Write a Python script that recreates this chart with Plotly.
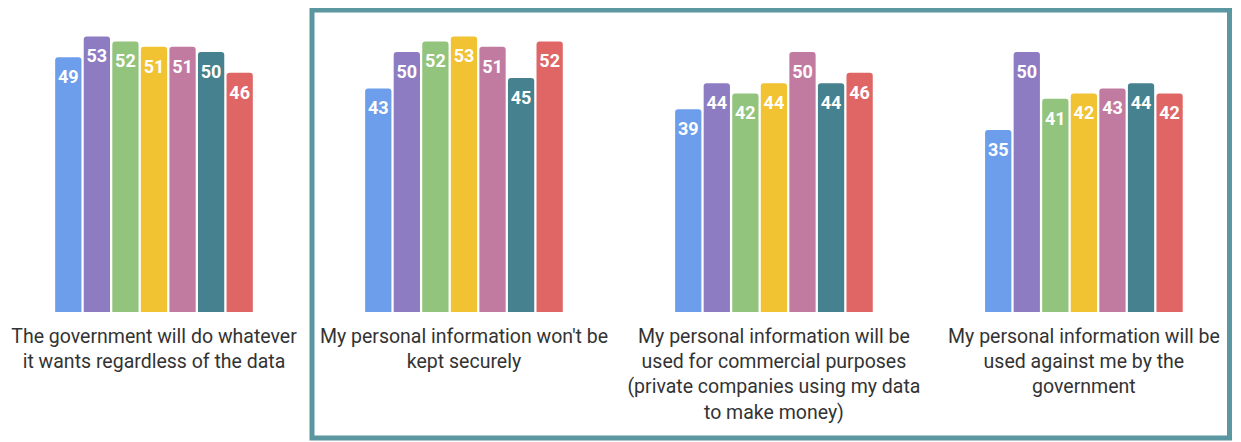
import plotly.graph_objects as go

categories = [
    "The government will do whatever<br>it wants regardless of the data",
    "My personal information won't be<br>kept securely",
    "My personal information will be<br>used for commercial purposes<br>(private companies using my data<br>to make money)",
    "My personal information will be<br>used against me by the<br>government",
]
series_names = ["Series 1", "Series 2", "Series 3", "Series 4", "Series 5", "Series 6", "Series 7"]
series_values = [
    [49, 43, 39, 35],
    [53, 50, 44, 50],
    [52, 52, 42, 41],
    [51, 53, 44, 42],
    [51, 51, 50, 43],
    [50, 45, 44, 44],
    [46, 52, 46, 42],
]
colors = ["#6d9eeb", "#8e7cc3", "#93c47d", "#f1c232", "#c27ba0", "#45818e", "#e06666"]


def create_traces():
    traces = []
    for i, (name, vals, color) in enumerate(zip(series_names, series_values, colors)):
        traces.append(go.Bar(
            name=name, x=categories, y=vals, offsetgroup=str(i),
            marker=dict(color=color, cornerradius=3, line=dict(width=0)),
            hoverinfo="y",
        ))
    # value labels sit a little below the bar tops, as in the original
    for i, (name, vals) in enumerate(zip(series_names, series_values)):
        traces.append(go.Scatter(
            name=name, x=categories, y=vals, offsetgroup=str(i),
            mode="markers+text", text=[str(v) for v in vals],
            textposition="bottom center",
            marker=dict(size=18, opacity=0),
            textfont=dict(family="Roboto", size=18, color="white", weight="bold"),
            hoverinfo="skip", cliponaxis=False,
        ))
    return traces


def create_plot(traces):
    fig = go.Figure(data=traces)
    fig.update_layout(
        width=1225, height=434,
        margin=dict(l=0, r=0, t=18, b=130),
        paper_bgcolor="white", plot_bgcolor="white",
        barmode="group", bargap=0.355, bargroupgap=0.08,
        scattermode="group", scattergap=0.355,
        showlegend=False,
        font=dict(family="Roboto", size=19.5, color="#333333"),
    )
    fig.update_xaxes(range=[-0.471, 3.481], showgrid=False, showline=False,
                     ticks="", tickangle=0, ticklabelstandoff=10,
                     tickfont=dict(size=19.5, color="#333333"))
    fig.update_yaxes(range=[0, 55], visible=False)
    fig.add_shape(type="rect", xref="paper", yref="paper",
                  x0=304 / 1225, x1=1221.5 / 1225,
                  y0=(304 - 430) / 286, y1=(304 - 2) / 286,
                  line=dict(color="#5b97a1", width=5), fillcolor="rgba(0,0,0,0)")
    fig.write_html("out.html")


def main():
    traces = create_traces()
    create_plot(traces)


if __name__ == "__main__":
    main()
